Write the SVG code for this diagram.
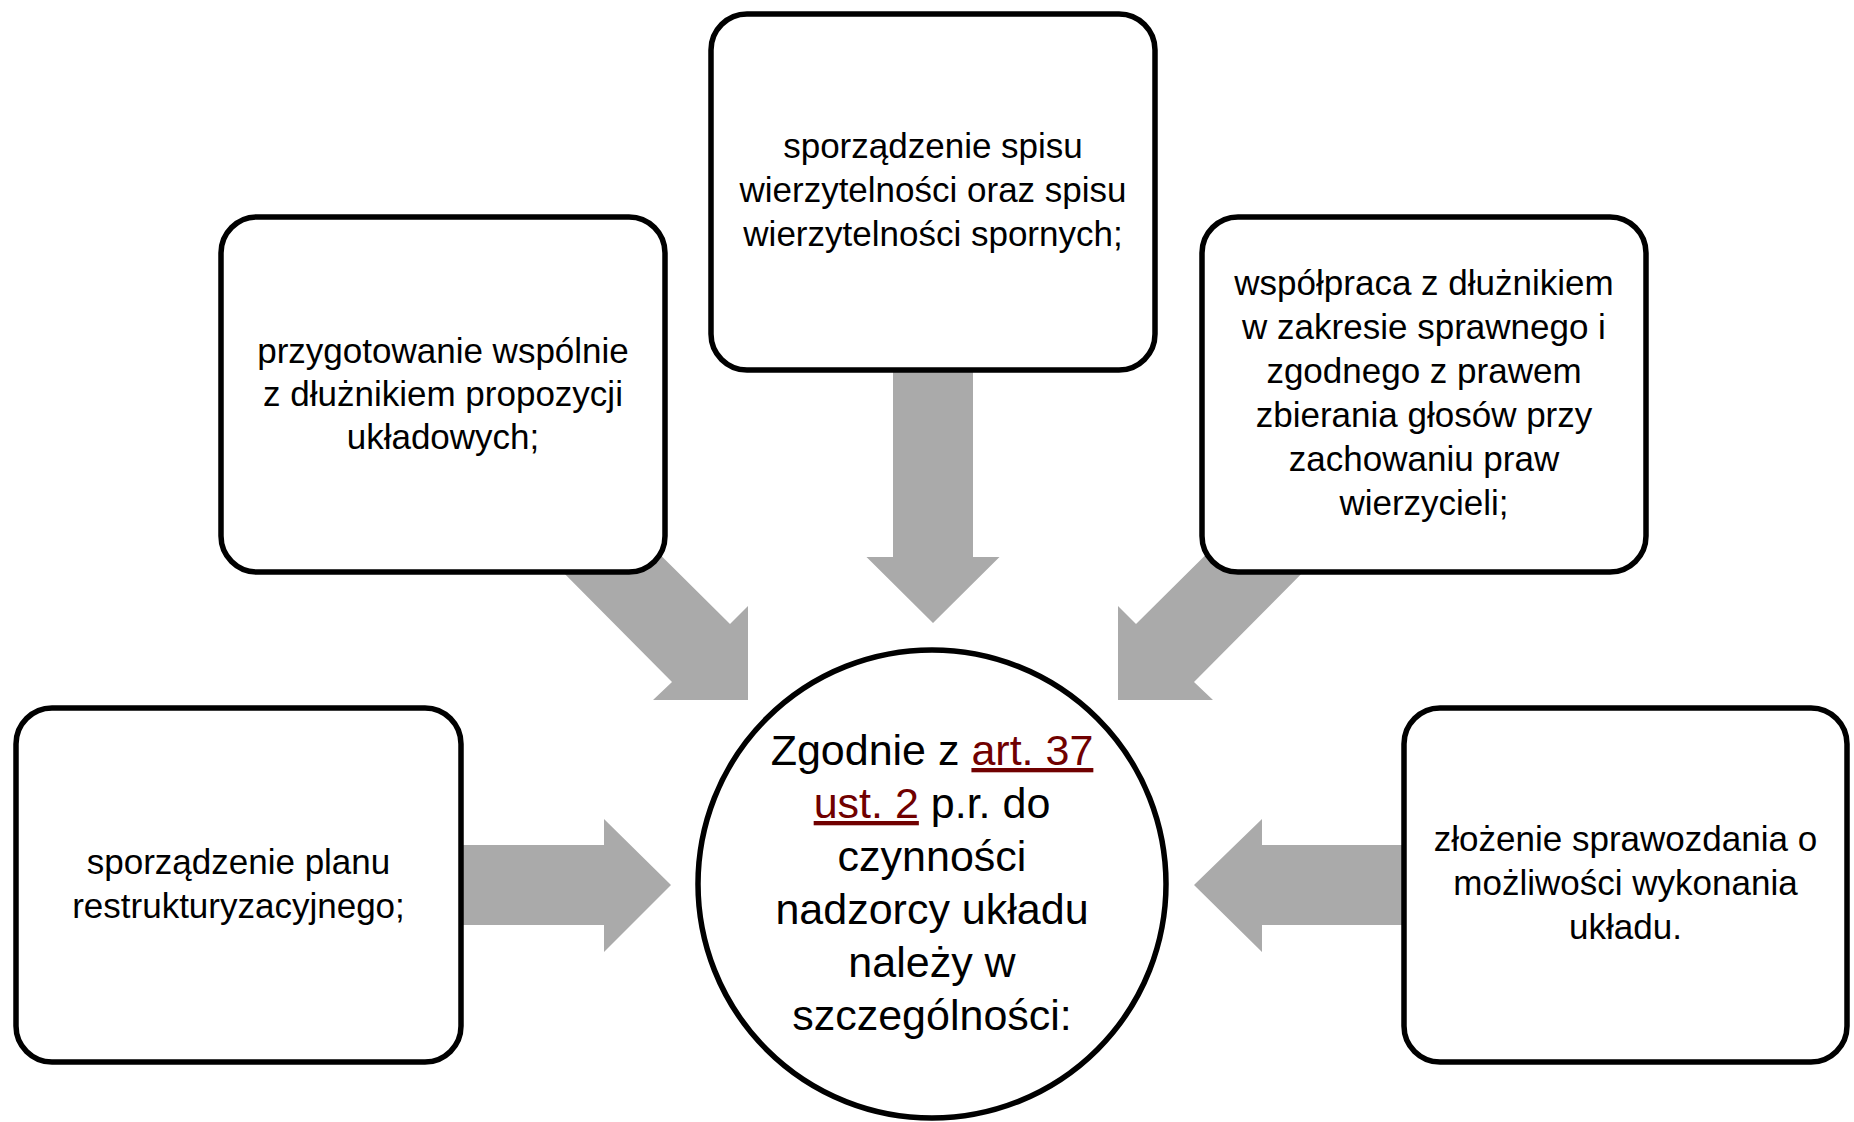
<svg xmlns="http://www.w3.org/2000/svg" width="1854" height="1122" viewBox="0 0 1854 1122">
<style>
.arrow{fill:#AAAAAA;stroke:none}
.box{fill:#FFFFFF;stroke:#000000;stroke-width:5.5}
.t{font-family:"Liberation Sans",Arial,sans-serif;font-size:35px;fill:#000000;text-anchor:middle}
.c{font-family:"Liberation Sans",Arial,sans-serif;font-size:43px;fill:#000000;text-anchor:middle}
.link{fill:#700000;text-decoration:underline}
</style>
<rect width="1854" height="1122" fill="#FFFFFF"/>
<g id="connectors">
<polygon class="arrow" points="238,845 604,845 604,819 671,885 604,952 604,925 238,925"/>
<polygon class="arrow" points="1626,845 1262,845 1262,819 1194,885 1262,952 1262,925 1626,925"/>
<polygon class="arrow" points="893,192 973,192 973,557 999.5,557 933,623 866.5,557 893,557"/>
<polygon class="arrow" points="471,367 730,624 748,606 748,700 653,700 672,682 415,423"/>
<polygon class="arrow" points="1395,367 1136,624 1118,606 1118,700 1213,700 1194,682 1451,423"/>
</g>
<g id="node-top">
<rect class="box" x="711" y="14" width="444" height="356" rx="36"/>
<text class="t" x="933" y="158">sporządzenie spisu</text>
<text class="t" x="933" y="202">wierzytelności oraz spisu</text>
<text class="t" x="933" y="246">wierzytelności spornych;</text>
</g>
<g id="node-top-left">
<rect class="box" x="221" y="217" width="444" height="355" rx="36"/>
<text class="t" x="443" y="363">przygotowanie wspólnie</text>
<text class="t" x="443" y="406">z dłużnikiem propozycji</text>
<text class="t" x="443" y="449">układowych;</text>
</g>
<g id="node-top-right">
<rect class="box" x="1202" y="217" width="444" height="355" rx="36"/>
<text class="t" x="1424" y="295">współpraca z dłużnikiem</text>
<text class="t" x="1424" y="339">w zakresie sprawnego i</text>
<text class="t" x="1424" y="383">zgodnego z prawem</text>
<text class="t" x="1424" y="427">zbierania głosów przy</text>
<text class="t" x="1424" y="471">zachowaniu praw</text>
<text class="t" x="1424" y="515">wierzycieli;</text>
</g>
<g id="node-bottom-left">
<rect class="box" x="16" y="708" width="445" height="354" rx="36"/>
<text class="t" x="238.5" y="874">sporządzenie planu</text>
<text class="t" x="238.5" y="918">restrukturyzacyjnego;</text>
</g>
<g id="node-bottom-right">
<rect class="box" x="1404" y="708" width="443" height="354" rx="36"/>
<text class="t" x="1625.5" y="851">złożenie sprawozdania o</text>
<text class="t" x="1625.5" y="895">możliwości wykonania</text>
<text class="t" x="1625.5" y="939">układu.</text>
</g>
<g id="node-center">
<circle class="box" cx="932" cy="884" r="234"/>
<text class="c" x="932" y="765">Zgodnie z <tspan class="link">art. 37</tspan></text>
<text class="c" x="932" y="818"><tspan class="link">ust. 2</tspan> p.r. do</text>
<text class="c" x="932" y="871">czynności</text>
<text class="c" x="932" y="924">nadzorcy układu</text>
<text class="c" x="932" y="977">należy w</text>
<text class="c" x="932" y="1030">szczególności:</text>
</g>
</svg>
